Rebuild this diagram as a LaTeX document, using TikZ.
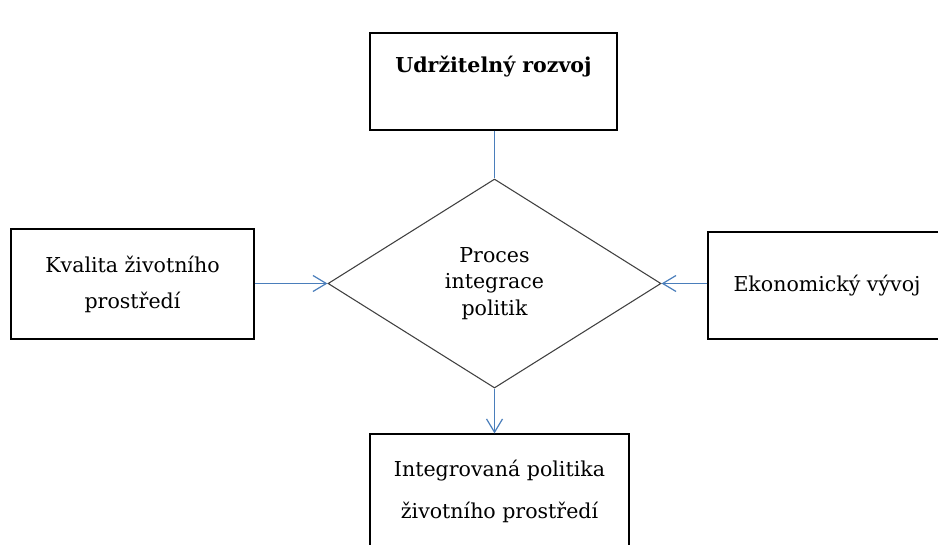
\documentclass[tikz,border=0pt]{standalone}
\usepackage{fontspec}
\setmainfont{DejaVu Serif}
\usetikzlibrary{shapes.geometric,arrows.meta}

\definecolor{linkblue}{RGB}{74,126,187}
\definecolor{rimgray}{RGB}{64,64,64}

\tikzset{
  box/.style={draw, line width=0.9pt, rectangle, align=center, inner sep=0pt,
    font=\fontsize{15.4}{27}\selectfont},
  gate/.style={draw=rimgray, line width=0.8pt, diamond, aspect=1.6, inner sep=0pt, align=center,
    font=\fontsize{15.4}{20}\selectfont},
  link/.style={draw=linkblue, line width=0.9pt},
  flow/.style={link, -{Straight Barb[length=10pt,width=12pt]}}
}

\begin{document}
\begin{tikzpicture}[x=0.75pt, y=-0.75pt]
\clip (0,0) rectangle (938,544);

% goal box on top
\node[box, minimum width=185.25pt, minimum height=72.75pt, text height=11pt, text depth=25pt] (goal) at (493.5,81.5) {\textbf{Udržitelný rozvoj}};

% the integration process
\node[gate, minimum width=249.75pt, minimum height=156.75pt] (process) at (494.5,283.5) {Proces\\integrace\\politik};

% inputs left and right
\node[box, minimum width=182.25pt, minimum height=82.5pt] (quality) at (132.5,284) {Kvalita životního\\prostředí};
\node[box, minimum width=178.5pt, minimum height=80.25pt] (economy) at (827,285.5) {Ekonomický vývoj};

% result box, runs off the page
\node[box, minimum width=194.25pt, minimum height=85.5pt, font=\fontsize{15.4}{31.5}\selectfont] (result) at (499.5,491) {Integrovaná politika\\životního prostředí};

% connectors
\draw[link] (process.north |- goal.south) -- (process.north);
\draw[flow] (quality.east |- process.west) -- (process.west);
\draw[flow] (economy.west |- process.east) -- (process.east);
\draw[flow] (process.south) -- (process.south |- result.north);

\end{tikzpicture}
\end{document}
